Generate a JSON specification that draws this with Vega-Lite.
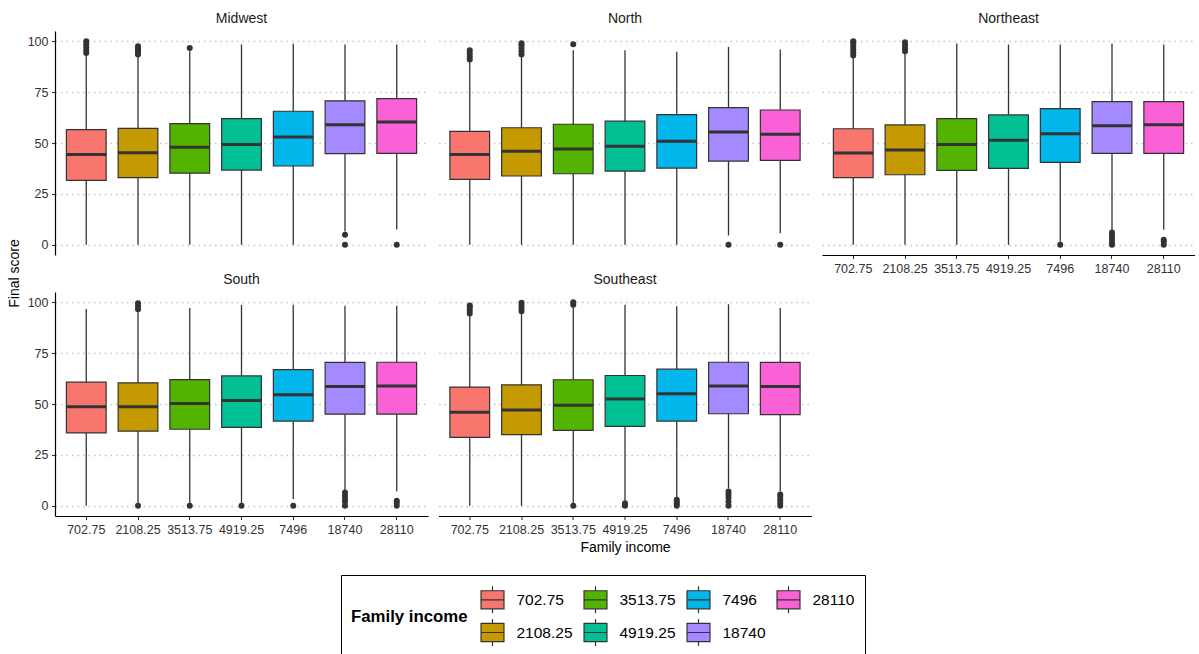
{
  "$schema": "https://vega.github.io/schema/vega-lite/v6.json",
  "padding": {"left": 7, "top": 12, "right": 0, "bottom": 0},
  "background": "white",
  "datasets": {
    "boxes": [
      {"region": "Midwest", "income": "702.75", "lower": 0, "q1": 31.6, "median": 44.3, "q3": 56.6, "upper": 93.5},
      {"region": "Midwest", "income": "2108.25", "lower": 0, "q1": 33.0, "median": 45.2, "q3": 57.2, "upper": 92.5},
      {"region": "Midwest", "income": "3513.75", "lower": 0, "q1": 35.2, "median": 47.9, "q3": 59.5, "upper": 95},
      {"region": "Midwest", "income": "4919.25", "lower": 0, "q1": 36.7, "median": 49.3, "q3": 62.0, "upper": 98.4},
      {"region": "Midwest", "income": "7496", "lower": 0, "q1": 38.7, "median": 52.9, "q3": 65.6, "upper": 98.7},
      {"region": "Midwest", "income": "18740", "lower": 6.5, "q1": 44.8, "median": 59.0, "q3": 70.7, "upper": 98.4},
      {"region": "Midwest", "income": "28110", "lower": 7.5, "q1": 44.9, "median": 60.3, "q3": 71.8, "upper": 98.4},
      {"region": "North", "income": "702.75", "lower": 0, "q1": 32.1, "median": 44.4, "q3": 55.7, "upper": 90.5},
      {"region": "North", "income": "2108.25", "lower": 0, "q1": 33.8, "median": 45.9, "q3": 57.5, "upper": 92.5},
      {"region": "North", "income": "3513.75", "lower": 0, "q1": 34.9, "median": 47.0, "q3": 59.2, "upper": 95.6},
      {"region": "North", "income": "4919.25", "lower": 0, "q1": 36.2, "median": 48.4, "q3": 60.7, "upper": 95.6},
      {"region": "North", "income": "7496", "lower": 0, "q1": 37.7, "median": 50.8, "q3": 63.9, "upper": 94.8},
      {"region": "North", "income": "18740", "lower": 4.6, "q1": 41.1, "median": 55.4, "q3": 67.4, "upper": 97.2},
      {"region": "North", "income": "28110", "lower": 5.7, "q1": 41.5, "median": 54.3, "q3": 66.2, "upper": 95.9},
      {"region": "Northeast", "income": "702.75", "lower": 0, "q1": 33.0, "median": 45.1, "q3": 57.0, "upper": 92},
      {"region": "Northeast", "income": "2108.25", "lower": 0, "q1": 34.4, "median": 46.6, "q3": 58.9, "upper": 94},
      {"region": "Northeast", "income": "3513.75", "lower": 0, "q1": 36.6, "median": 49.3, "q3": 62.0, "upper": 98.9},
      {"region": "Northeast", "income": "4919.25", "lower": 0, "q1": 37.5, "median": 51.3, "q3": 63.8, "upper": 98.4},
      {"region": "Northeast", "income": "7496", "lower": 1.5, "q1": 40.5, "median": 54.6, "q3": 66.9, "upper": 98.4},
      {"region": "Northeast", "income": "18740", "lower": 7, "q1": 44.9, "median": 58.5, "q3": 70.3, "upper": 98.9},
      {"region": "Northeast", "income": "28110", "lower": 7.4, "q1": 44.9, "median": 59.0, "q3": 70.3, "upper": 98.4},
      {"region": "South", "income": "702.75", "lower": 0, "q1": 35.8, "median": 48.6, "q3": 60.7, "upper": 96.7},
      {"region": "South", "income": "2108.25", "lower": 1, "q1": 36.7, "median": 48.6, "q3": 60.4, "upper": 95.5},
      {"region": "South", "income": "3513.75", "lower": 1, "q1": 37.6, "median": 50.2, "q3": 62.0, "upper": 97.2},
      {"region": "South", "income": "4919.25", "lower": 1, "q1": 38.5, "median": 51.7, "q3": 63.8, "upper": 98.7},
      {"region": "South", "income": "7496", "lower": 3.4, "q1": 41.6, "median": 54.5, "q3": 66.9, "upper": 98.7},
      {"region": "South", "income": "18740", "lower": 7.5, "q1": 45.0, "median": 58.6, "q3": 70.4, "upper": 98.2},
      {"region": "South", "income": "28110", "lower": 7.2, "q1": 45.0, "median": 58.9, "q3": 70.5, "upper": 98.2},
      {"region": "Southeast", "income": "702.75", "lower": 0, "q1": 33.6, "median": 46.0, "q3": 58.3, "upper": 93.5},
      {"region": "Southeast", "income": "2108.25", "lower": 0, "q1": 35.0, "median": 47.1, "q3": 59.4, "upper": 94.5},
      {"region": "Southeast", "income": "3513.75", "lower": 1, "q1": 37.0, "median": 49.4, "q3": 61.9, "upper": 98},
      {"region": "Southeast", "income": "4919.25", "lower": 2, "q1": 39.0, "median": 52.4, "q3": 64.0, "upper": 98.7},
      {"region": "Southeast", "income": "7496", "lower": 4, "q1": 41.6, "median": 55.0, "q3": 67.1, "upper": 98.0},
      {"region": "Southeast", "income": "18740", "lower": 8.5, "q1": 45.2, "median": 58.9, "q3": 70.5, "upper": 99.0},
      {"region": "Southeast", "income": "28110", "lower": 7, "q1": 44.8, "median": 58.6, "q3": 70.4, "upper": 97.2}
    ],
    "outliers": [
      {"region": "Midwest", "income": "702.75", "score": 94.2},
      {"region": "Midwest", "income": "702.75", "score": 95.5},
      {"region": "Midwest", "income": "702.75", "score": 97},
      {"region": "Midwest", "income": "702.75", "score": 98.5},
      {"region": "Midwest", "income": "702.75", "score": 100},
      {"region": "Midwest", "income": "2108.25", "score": 93.5},
      {"region": "Midwest", "income": "2108.25", "score": 94.5},
      {"region": "Midwest", "income": "2108.25", "score": 95.5},
      {"region": "Midwest", "income": "2108.25", "score": 96.5},
      {"region": "Midwest", "income": "2108.25", "score": 97.5},
      {"region": "Midwest", "income": "3513.75", "score": 96.7},
      {"region": "Midwest", "income": "18740", "score": 4.9},
      {"region": "Midwest", "income": "18740", "score": 0},
      {"region": "Midwest", "income": "28110", "score": 0},
      {"region": "North", "income": "702.75", "score": 91},
      {"region": "North", "income": "702.75", "score": 92.5},
      {"region": "North", "income": "702.75", "score": 94},
      {"region": "North", "income": "702.75", "score": 95.5},
      {"region": "North", "income": "2108.25", "score": 93.5},
      {"region": "North", "income": "2108.25", "score": 95},
      {"region": "North", "income": "2108.25", "score": 96.5},
      {"region": "North", "income": "2108.25", "score": 98},
      {"region": "North", "income": "2108.25", "score": 99},
      {"region": "North", "income": "3513.75", "score": 98.5},
      {"region": "North", "income": "18740", "score": 0},
      {"region": "North", "income": "28110", "score": 0},
      {"region": "Northeast", "income": "702.75", "score": 93},
      {"region": "Northeast", "income": "702.75", "score": 94.5},
      {"region": "Northeast", "income": "702.75", "score": 96},
      {"region": "Northeast", "income": "702.75", "score": 97.5},
      {"region": "Northeast", "income": "702.75", "score": 99},
      {"region": "Northeast", "income": "702.75", "score": 100},
      {"region": "Northeast", "income": "2108.25", "score": 95},
      {"region": "Northeast", "income": "2108.25", "score": 96.5},
      {"region": "Northeast", "income": "2108.25", "score": 98},
      {"region": "Northeast", "income": "2108.25", "score": 99.5},
      {"region": "Northeast", "income": "7496", "score": 0},
      {"region": "Northeast", "income": "18740", "score": 0},
      {"region": "Northeast", "income": "18740", "score": 1.5},
      {"region": "Northeast", "income": "18740", "score": 3},
      {"region": "Northeast", "income": "18740", "score": 4.5},
      {"region": "Northeast", "income": "18740", "score": 6},
      {"region": "Northeast", "income": "28110", "score": 0},
      {"region": "Northeast", "income": "28110", "score": 1.5},
      {"region": "Northeast", "income": "28110", "score": 2.5},
      {"region": "South", "income": "2108.25", "score": 96.5},
      {"region": "South", "income": "2108.25", "score": 98},
      {"region": "South", "income": "2108.25", "score": 99.5},
      {"region": "South", "income": "2108.25", "score": 0},
      {"region": "South", "income": "3513.75", "score": 0},
      {"region": "South", "income": "4919.25", "score": 0},
      {"region": "South", "income": "7496", "score": 0},
      {"region": "South", "income": "18740", "score": 0},
      {"region": "South", "income": "18740", "score": 2},
      {"region": "South", "income": "18740", "score": 3.5},
      {"region": "South", "income": "18740", "score": 5},
      {"region": "South", "income": "18740", "score": 6.5},
      {"region": "South", "income": "28110", "score": 0},
      {"region": "South", "income": "28110", "score": 1.5},
      {"region": "South", "income": "28110", "score": 2.5},
      {"region": "Southeast", "income": "702.75", "score": 94.5},
      {"region": "Southeast", "income": "702.75", "score": 96},
      {"region": "Southeast", "income": "702.75", "score": 97.5},
      {"region": "Southeast", "income": "702.75", "score": 98.4},
      {"region": "Southeast", "income": "2108.25", "score": 95.5},
      {"region": "Southeast", "income": "2108.25", "score": 97},
      {"region": "Southeast", "income": "2108.25", "score": 98.5},
      {"region": "Southeast", "income": "2108.25", "score": 99.7},
      {"region": "Southeast", "income": "3513.75", "score": 98.8},
      {"region": "Southeast", "income": "3513.75", "score": 100},
      {"region": "Southeast", "income": "3513.75", "score": 0},
      {"region": "Southeast", "income": "4919.25", "score": 0},
      {"region": "Southeast", "income": "4919.25", "score": 0.7},
      {"region": "Southeast", "income": "4919.25", "score": 1.3},
      {"region": "Southeast", "income": "7496", "score": 0},
      {"region": "Southeast", "income": "7496", "score": 1},
      {"region": "Southeast", "income": "7496", "score": 2},
      {"region": "Southeast", "income": "7496", "score": 3},
      {"region": "Southeast", "income": "18740", "score": 0},
      {"region": "Southeast", "income": "18740", "score": 2},
      {"region": "Southeast", "income": "18740", "score": 4},
      {"region": "Southeast", "income": "18740", "score": 5.5},
      {"region": "Southeast", "income": "18740", "score": 7},
      {"region": "Southeast", "income": "28110", "score": 0},
      {"region": "Southeast", "income": "28110", "score": 1.5},
      {"region": "Southeast", "income": "28110", "score": 3},
      {"region": "Southeast", "income": "28110", "score": 4.5},
      {"region": "Southeast", "income": "28110", "score": 5.5}
    ]
  },
  "columns": 3,
  "spacing": {"row": 37, "column": 10.5},
  "bounds": "flush",
  "resolve": {"scale": {"color": "shared"}, "legend": {"color": "shared"}},
  "concat": [
    {
      "width": 373, "height": 224,
      "title": {"text": "Midwest"},
      "encoding": {"x": {"field": "income", "type": "nominal", "sort": ["702.75","2108.25","3513.75","4919.25","7496","18740","28110"], "scale": {"domain": ["702.75","2108.25","3513.75","4919.25","7496","18740","28110"], "paddingInner": 0.232, "paddingOuter": 0.22}, "axis": null}},
      "layer": [
        {"data": {"name": "boxes"}, "transform": [{"filter": "datum.region == 'Midwest'"}], "mark": {"type": "rule", "color": "#333333", "strokeWidth": 1.3}, "encoding": {"y": {"field": "lower", "type": "quantitative", "scale": {"domain": [-5, 105], "nice": false, "zero": false}, "axis": {"title": "Final score", "values": [0,25,50,75,100], "titleX": -41, "titleY": 242, "titleAngle": -90, "titleAlign": "center", "titleBaseline": "middle"}}, "y2": {"field": "upper"}}},
        {"data": {"name": "boxes"}, "transform": [{"filter": "datum.region == 'Midwest'"}], "mark": {"type": "bar", "stroke": "#333333", "strokeWidth": 1.2, "opacity": 1}, "encoding": {"y": {"field": "q1", "type": "quantitative", "scale": {"domain": [-5, 105], "nice": false, "zero": false}, "axis": {"title": "Final score", "values": [0,25,50,75,100], "titleX": -41, "titleY": 242, "titleAngle": -90, "titleAlign": "center", "titleBaseline": "middle"}}, "y2": {"field": "q3"},
          "color": {"field": "income", "type": "nominal", "scale": {"domain": ["702.75","2108.25","3513.75","4919.25","7496","18740","28110"], "range": ["#F8766D","#C49A00","#53B400","#00C094","#00B6EB","#A58AFF","#FB61D7"]},
            "legend": {"title": "Family income", "orient": "none", "legendX": 286, "legendY": 544, "direction": "horizontal", "columns": 4, "values": ["702.75","3513.75","7496","28110","2108.25","4919.25","18740"], "symbolType": "M-0.85,-0.67H0.85V0.67H-0.85Z M-0.85,0H0.85 M0,-0.67V-1 M0,0.67V1", "symbolSize": 729, "symbolStrokeColor": "#333333", "symbolStrokeWidth": 1.2, "symbolOpacity": 1, "labelFontSize": 15.5, "labelColor": "black", "labelOffset": 9.5, "titleFontSize": 16.8, "titleFontWeight": "bold", "titleColor": "black", "titleOrient": "left", "titleAnchor": "middle", "titleBaseline": "middle", "titlePadding": 10, "padding": 10, "strokeColor": "black", "rowPadding": 0, "columnPadding": 8}}}},
        {"data": {"name": "boxes"}, "transform": [{"filter": "datum.region == 'Midwest'"}], "mark": {"type": "tick", "color": "#333333", "thickness": 3, "size": 40, "opacity": 1}, "encoding": {"y": {"field": "median", "type": "quantitative", "scale": {"domain": [-5, 105], "nice": false, "zero": false}, "axis": {"title": "Final score", "values": [0,25,50,75,100], "titleX": -41, "titleY": 242, "titleAngle": -90, "titleAlign": "center", "titleBaseline": "middle"}}}},
        {"data": {"name": "outliers"}, "transform": [{"filter": "datum.region == 'Midwest'"}], "mark": {"type": "point", "filled": true, "color": "#333333", "size": 36, "opacity": 1}, "encoding": {"y": {"field": "score", "type": "quantitative", "scale": {"domain": [-5, 105], "nice": false, "zero": false}, "axis": {"title": "Final score", "values": [0,25,50,75,100], "titleX": -41, "titleY": 242, "titleAngle": -90, "titleAlign": "center", "titleBaseline": "middle"}}}}
      ]
    },
    {
      "width": 373, "height": 224,
      "title": {"text": "North"},
      "encoding": {"x": {"field": "income", "type": "nominal", "sort": ["702.75","2108.25","3513.75","4919.25","7496","18740","28110"], "scale": {"domain": ["702.75","2108.25","3513.75","4919.25","7496","18740","28110"], "paddingInner": 0.232, "paddingOuter": 0.22}, "axis": null}},
      "layer": [
        {"data": {"name": "boxes"}, "transform": [{"filter": "datum.region == 'North'"}], "mark": {"type": "rule", "color": "#333333", "strokeWidth": 1.3}, "encoding": {"y": {"field": "lower", "type": "quantitative", "scale": {"domain": [-5, 105], "nice": false, "zero": false}, "axis": {"title": null, "values": [0,25,50,75,100], "labels": false, "ticks": false, "domain": false}}, "y2": {"field": "upper"}}},
        {"data": {"name": "boxes"}, "transform": [{"filter": "datum.region == 'North'"}], "mark": {"type": "bar", "stroke": "#333333", "strokeWidth": 1.2, "opacity": 1}, "encoding": {"y": {"field": "q1", "type": "quantitative", "scale": {"domain": [-5, 105], "nice": false, "zero": false}, "axis": {"title": null, "values": [0,25,50,75,100], "labels": false, "ticks": false, "domain": false}}, "y2": {"field": "q3"},
          "color": {"field": "income", "type": "nominal", "scale": {"domain": ["702.75","2108.25","3513.75","4919.25","7496","18740","28110"], "range": ["#F8766D","#C49A00","#53B400","#00C094","#00B6EB","#A58AFF","#FB61D7"]}}}},
        {"data": {"name": "boxes"}, "transform": [{"filter": "datum.region == 'North'"}], "mark": {"type": "tick", "color": "#333333", "thickness": 3, "size": 40, "opacity": 1}, "encoding": {"y": {"field": "median", "type": "quantitative", "scale": {"domain": [-5, 105], "nice": false, "zero": false}, "axis": {"title": null, "values": [0,25,50,75,100], "labels": false, "ticks": false, "domain": false}}}},
        {"data": {"name": "outliers"}, "transform": [{"filter": "datum.region == 'North'"}], "mark": {"type": "point", "filled": true, "color": "#333333", "size": 36, "opacity": 1}, "encoding": {"y": {"field": "score", "type": "quantitative", "scale": {"domain": [-5, 105], "nice": false, "zero": false}, "axis": {"title": null, "values": [0,25,50,75,100], "labels": false, "ticks": false, "domain": false}}}}
      ]
    },
    {
      "width": 373, "height": 224,
      "title": {"text": "Northeast"},
      "encoding": {"x": {"field": "income", "type": "nominal", "sort": ["702.75","2108.25","3513.75","4919.25","7496","18740","28110"], "scale": {"domain": ["702.75","2108.25","3513.75","4919.25","7496","18740","28110"], "paddingInner": 0.232, "paddingOuter": 0.22}, "axis": {"title": null}}},
      "layer": [
        {"data": {"name": "boxes"}, "transform": [{"filter": "datum.region == 'Northeast'"}], "mark": {"type": "rule", "color": "#333333", "strokeWidth": 1.3}, "encoding": {"y": {"field": "lower", "type": "quantitative", "scale": {"domain": [-5, 105], "nice": false, "zero": false}, "axis": {"title": null, "values": [0,25,50,75,100], "labels": false, "ticks": false, "domain": false}}, "y2": {"field": "upper"}}},
        {"data": {"name": "boxes"}, "transform": [{"filter": "datum.region == 'Northeast'"}], "mark": {"type": "bar", "stroke": "#333333", "strokeWidth": 1.2, "opacity": 1}, "encoding": {"y": {"field": "q1", "type": "quantitative", "scale": {"domain": [-5, 105], "nice": false, "zero": false}, "axis": {"title": null, "values": [0,25,50,75,100], "labels": false, "ticks": false, "domain": false}}, "y2": {"field": "q3"},
          "color": {"field": "income", "type": "nominal", "scale": {"domain": ["702.75","2108.25","3513.75","4919.25","7496","18740","28110"], "range": ["#F8766D","#C49A00","#53B400","#00C094","#00B6EB","#A58AFF","#FB61D7"]}}}},
        {"data": {"name": "boxes"}, "transform": [{"filter": "datum.region == 'Northeast'"}], "mark": {"type": "tick", "color": "#333333", "thickness": 3, "size": 40, "opacity": 1}, "encoding": {"y": {"field": "median", "type": "quantitative", "scale": {"domain": [-5, 105], "nice": false, "zero": false}, "axis": {"title": null, "values": [0,25,50,75,100], "labels": false, "ticks": false, "domain": false}}}},
        {"data": {"name": "outliers"}, "transform": [{"filter": "datum.region == 'Northeast'"}], "mark": {"type": "point", "filled": true, "color": "#333333", "size": 36, "opacity": 1}, "encoding": {"y": {"field": "score", "type": "quantitative", "scale": {"domain": [-5, 105], "nice": false, "zero": false}, "axis": {"title": null, "values": [0,25,50,75,100], "labels": false, "ticks": false, "domain": false}}}}
      ]
    },
    {
      "width": 373, "height": 224,
      "title": {"text": "South"},
      "encoding": {"x": {"field": "income", "type": "nominal", "sort": ["702.75","2108.25","3513.75","4919.25","7496","18740","28110"], "scale": {"domain": ["702.75","2108.25","3513.75","4919.25","7496","18740","28110"], "paddingInner": 0.232, "paddingOuter": 0.22}, "axis": {"title": null}}},
      "layer": [
        {"data": {"name": "boxes"}, "transform": [{"filter": "datum.region == 'South'"}], "mark": {"type": "rule", "color": "#333333", "strokeWidth": 1.3}, "encoding": {"y": {"field": "lower", "type": "quantitative", "scale": {"domain": [-5, 105], "nice": false, "zero": false}, "axis": {"title": null, "values": [0,25,50,75,100]}}, "y2": {"field": "upper"}}},
        {"data": {"name": "boxes"}, "transform": [{"filter": "datum.region == 'South'"}], "mark": {"type": "bar", "stroke": "#333333", "strokeWidth": 1.2, "opacity": 1}, "encoding": {"y": {"field": "q1", "type": "quantitative", "scale": {"domain": [-5, 105], "nice": false, "zero": false}, "axis": {"title": null, "values": [0,25,50,75,100]}}, "y2": {"field": "q3"},
          "color": {"field": "income", "type": "nominal", "scale": {"domain": ["702.75","2108.25","3513.75","4919.25","7496","18740","28110"], "range": ["#F8766D","#C49A00","#53B400","#00C094","#00B6EB","#A58AFF","#FB61D7"]}}}},
        {"data": {"name": "boxes"}, "transform": [{"filter": "datum.region == 'South'"}], "mark": {"type": "tick", "color": "#333333", "thickness": 3, "size": 40, "opacity": 1}, "encoding": {"y": {"field": "median", "type": "quantitative", "scale": {"domain": [-5, 105], "nice": false, "zero": false}, "axis": {"title": null, "values": [0,25,50,75,100]}}}},
        {"data": {"name": "outliers"}, "transform": [{"filter": "datum.region == 'South'"}], "mark": {"type": "point", "filled": true, "color": "#333333", "size": 36, "opacity": 1}, "encoding": {"y": {"field": "score", "type": "quantitative", "scale": {"domain": [-5, 105], "nice": false, "zero": false}, "axis": {"title": null, "values": [0,25,50,75,100]}}}}
      ]
    },
    {
      "width": 373, "height": 224,
      "title": {"text": "Southeast"},
      "encoding": {"x": {"field": "income", "type": "nominal", "sort": ["702.75","2108.25","3513.75","4919.25","7496","18740","28110"], "scale": {"domain": ["702.75","2108.25","3513.75","4919.25","7496","18740","28110"], "paddingInner": 0.232, "paddingOuter": 0.22}, "axis": {"title": "Family income", "titleY": 31, "titleBaseline": "middle"}}},
      "layer": [
        {"data": {"name": "boxes"}, "transform": [{"filter": "datum.region == 'Southeast'"}], "mark": {"type": "rule", "color": "#333333", "strokeWidth": 1.3}, "encoding": {"y": {"field": "lower", "type": "quantitative", "scale": {"domain": [-5, 105], "nice": false, "zero": false}, "axis": {"title": null, "values": [0,25,50,75,100], "labels": false, "ticks": false, "domain": false}}, "y2": {"field": "upper"}}},
        {"data": {"name": "boxes"}, "transform": [{"filter": "datum.region == 'Southeast'"}], "mark": {"type": "bar", "stroke": "#333333", "strokeWidth": 1.2, "opacity": 1}, "encoding": {"y": {"field": "q1", "type": "quantitative", "scale": {"domain": [-5, 105], "nice": false, "zero": false}, "axis": {"title": null, "values": [0,25,50,75,100], "labels": false, "ticks": false, "domain": false}}, "y2": {"field": "q3"},
          "color": {"field": "income", "type": "nominal", "scale": {"domain": ["702.75","2108.25","3513.75","4919.25","7496","18740","28110"], "range": ["#F8766D","#C49A00","#53B400","#00C094","#00B6EB","#A58AFF","#FB61D7"]}}}},
        {"data": {"name": "boxes"}, "transform": [{"filter": "datum.region == 'Southeast'"}], "mark": {"type": "tick", "color": "#333333", "thickness": 3, "size": 40, "opacity": 1}, "encoding": {"y": {"field": "median", "type": "quantitative", "scale": {"domain": [-5, 105], "nice": false, "zero": false}, "axis": {"title": null, "values": [0,25,50,75,100], "labels": false, "ticks": false, "domain": false}}}},
        {"data": {"name": "outliers"}, "transform": [{"filter": "datum.region == 'Southeast'"}], "mark": {"type": "point", "filled": true, "color": "#333333", "size": 36, "opacity": 1}, "encoding": {"y": {"field": "score", "type": "quantitative", "scale": {"domain": [-5, 105], "nice": false, "zero": false}, "axis": {"title": null, "values": [0,25,50,75,100], "labels": false, "ticks": false, "domain": false}}}}
      ]
    }
  ],
  "config": {
    "font": "Liberation Sans",
    "view": {"stroke": null},
    "axis": {
      "domainColor": "black", "domainWidth": 1.2,
      "tickColor": "#333333", "tickSize": 3.5, "tickWidth": 1.1,
      "labelColor": "#333333", "labelFontSize": 12.5, "labelFont": "Liberation Sans",
      "titleFont": "Liberation Sans", "titleFontSize": 14, "titleFontWeight": "normal", "titleColor": "black",
      "gridColor": "#c4c4c4", "gridDash": [1.5, 4], "gridWidth": 1.3
    },
    "axisX": {"grid": false, "labelAngle": 0, "labelPadding": 3.5},
    "axisY": {"grid": true, "labelPadding": 3.5},
    "title": {"fontSize": 14, "fontWeight": "normal", "color": "#1a1a1a", "offset": 5, "baseline": "bottom", "anchor": "middle", "font": "Liberation Sans"},
    "legend": {"labelFont": "Liberation Sans", "titleFont": "Liberation Sans"}
  }
}
